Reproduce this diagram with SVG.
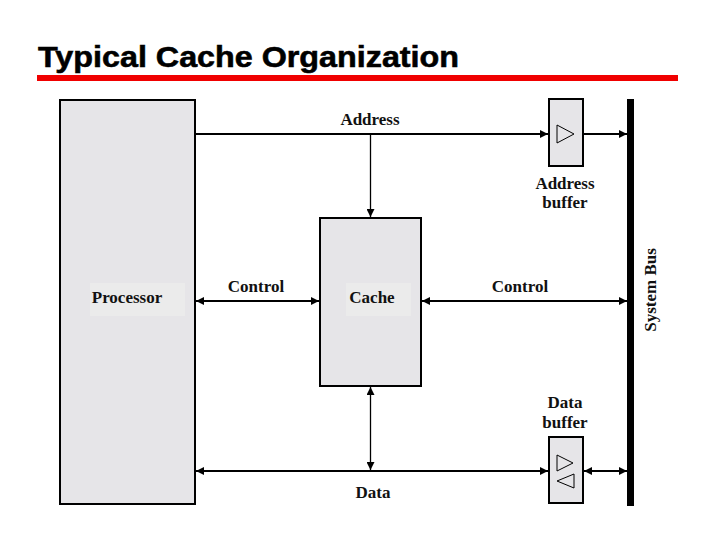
<svg xmlns="http://www.w3.org/2000/svg" width="720" height="540" viewBox="0 0 720 540">
<style>
.box{fill:#e6e5e8;stroke:#000;stroke-width:2}
.lbl{font-family:"Liberation Serif","Times New Roman",serif;font-weight:bold;font-size:17px;fill:#111;text-anchor:middle}
.ln{stroke:#000;stroke-width:2;fill:none}
.thin{stroke:#000;stroke-width:1.3;fill:none}
.tri{fill:none;stroke:#000;stroke-width:1}
</style>
<defs>
<marker id="ah" viewBox="0 0 10 10" refX="10" refY="5" markerWidth="9" markerHeight="8" markerUnits="userSpaceOnUse" orient="auto-start-reverse">
<path d="M0,0 L10,5 L0,10 z" fill="#000"/>
</marker>
</defs>
<rect width="720" height="540" fill="#fff"/>
<text x="38" y="67" font-family="Liberation Sans, Arial, sans-serif" font-weight="bold" font-size="30" fill="#000" stroke="#000" stroke-width="0.6" textLength="421" lengthAdjust="spacingAndGlyphs">Typical Cache Organization</text>
<rect x="37" y="75" width="641" height="6" fill="#f00000"/>

<g id="processor">
<rect class="box" x="60" y="100" width="135" height="404"/>
<rect x="90" y="283" width="95" height="33" fill="#ebebeb"/>
<text class="lbl" x="127" y="303">Processor</text>
</g>
<g id="cache">
<rect class="box" x="320" y="218" width="101" height="168"/>
<rect x="346" y="283" width="65" height="33" fill="#ebebeb"/>
<text class="lbl" x="372" y="303">Cache</text>
</g>
<g id="address-buffer">
<rect class="box" x="549" y="99" width="34" height="67"/>
<path class="tri" d="M557,125 L574,134 L557,143 z"/>
<text class="lbl" x="565" y="189">Address</text>
<text class="lbl" x="565" y="208">buffer</text>
</g>
<g id="data-buffer">
<rect class="box" x="549" y="437" width="34" height="66"/>
<path class="tri" d="M557,455 L573,463 L557,471 z"/>
<path class="tri" d="M574,474 L557,481 L574,488 z"/>
<text class="lbl" x="565" y="408">Data</text>
<text class="lbl" x="565" y="428">buffer</text>
</g>
<g id="system-bus">
<rect x="627" y="99" width="7" height="407" fill="#000"/>
<text class="lbl" transform="translate(656,290) rotate(-90)">System Bus</text>
</g>

<g id="connectors">
<line class="ln" x1="195" y1="134" x2="548" y2="134" marker-end="url(#ah)"/>
<line class="thin" x1="370.5" y1="134" x2="370.5" y2="217" marker-end="url(#ah)"/>
<line class="ln" x1="583" y1="134" x2="627" y2="134" marker-end="url(#ah)"/>
<line class="ln" x1="196" y1="301" x2="319" y2="301" marker-start="url(#ah)" marker-end="url(#ah)"/>
<line class="ln" x1="422" y1="301" x2="627" y2="301" marker-start="url(#ah)" marker-end="url(#ah)"/>
<line class="thin" x1="370.5" y1="387" x2="370.5" y2="470" marker-start="url(#ah)" marker-end="url(#ah)"/>
<line class="ln" x1="196" y1="471" x2="548" y2="471" marker-start="url(#ah)" marker-end="url(#ah)"/>
<line class="ln" x1="584" y1="471" x2="627" y2="471" marker-start="url(#ah)" marker-end="url(#ah)"/>
<text class="lbl" x="370" y="125">Address</text>
<text class="lbl" x="256" y="292">Control</text>
<text class="lbl" x="520" y="292">Control</text>
<text class="lbl" x="373" y="498">Data</text>
</g>
</svg>
